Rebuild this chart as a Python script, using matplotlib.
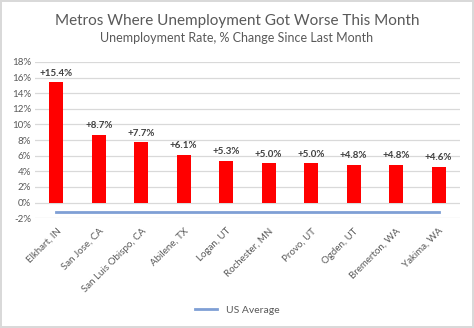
import matplotlib
matplotlib.use("Agg")
import matplotlib.pyplot as plt
import numpy as np

# data
metros = ["Elkhart, IN", "San Jose, CA", "San Luis Obispo, CA", "Abilene, TX",
          "Logan, UT", "Rochester, MN", "Provo, UT", "Ogden, UT",
          "Bremerton, WA", "Yakima, WA"]
change = [15.4, 8.7, 7.7, 6.1, 5.3, 5.0, 5.0, 4.8, 4.8, 4.6]
us_average = [-1.2] * len(metros)
yticks = [-2, 0, 2, 4, 6, 8, 10, 12, 14, 16, 18]

plt.rcParams['font.family'] = ['Lato', 'DejaVu Sans']
grey = '#595959'

fig = plt.figure(figsize=(4.74, 3.28), dpi=100)
fig.patch.set_edgecolor('#D9D9D9')
fig.patch.set_linewidth(1.5)
ax = fig.add_axes([0.074, 0.335, 0.896, 0.476])

x = np.arange(len(metros))
ax.bar(x, change, width=0.33, color='#FF0000', zorder=3)
ax.plot(x, us_average, color='#7F9FD5', linewidth=2, zorder=3, label='US Average')

for xi, v in zip(x, change):
    ax.text(xi, v + 0.6, "+%.1f%%" % v, ha='center', va='bottom',
            fontsize=7, fontweight='bold', color='#404040')

ax.set_xlim(-0.5, len(metros) - 0.5)
ax.set_ylim(-2, 18)
ax.set_yticks(yticks)
ax.set_yticklabels(["%d%%" % t for t in yticks])
ax.set_xticks(x)
ax.set_xticklabels(metros, rotation=45, ha='right', rotation_mode='anchor')
ax.tick_params(axis='both', length=0, labelsize=7, colors=grey, pad=3)
ax.tick_params(axis='x', pad=6)
ax.grid(axis='y', color='#D9D9D9', linewidth=0.9, zorder=0)
for s in ax.spines.values():
    s.set_visible(False)

fig.text(0.5, 0.935, "Metros Where Unemployment Got Worse This Month",
         ha='center', va='center', fontsize=11, color=grey)
fig.text(0.5, 0.885, "Unemployment Rate, % Change Since Last Month",
         ha='center', va='center', fontsize=9, color=grey)

fig.legend(loc='center', bbox_to_anchor=(0.5, 0.055), frameon=False,
           fontsize=7.5, labelcolor=grey, handlelength=2.2)

fig.savefig("out.png", dpi=100, edgecolor=fig.get_edgecolor())
